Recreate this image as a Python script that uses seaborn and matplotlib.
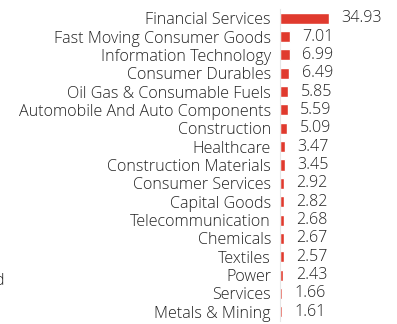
import matplotlib
matplotlib.use("Agg")
import matplotlib.pyplot as plt
import seaborn as sns
import pandas as pd

sectors = [
    "Financial Services", "Fast Moving Consumer Goods", "Information Technology",
    "Consumer Durables", "Oil Gas & Consumable Fuels", "Automobile And Auto Components",
    "Construction", "Healthcare", "Construction Materials", "Consumer Services",
    "Capital Goods", "Telecommunication", "Chemicals", "Textiles", "Power",
    "Services", "Metals & Mining",
]
weights = [34.93, 7.01, 6.99, 6.49, 5.85, 5.59, 5.09, 3.47, 3.45, 2.92,
           2.82, 2.68, 2.67, 2.57, 2.43, 1.66, 1.61]

df = pd.DataFrame({"sector": sectors, "weight": weights})

sns.set_style("white")
plt.rcParams["font.family"] = ["Open Sans", "DejaVu Sans"]
plt.rcParams["font.weight"] = "light"

fig = plt.figure(figsize=(3.97, 3.24), dpi=100)
ax = fig.add_axes([280 / 397, 3 / 324, 117 / 397, 312 / 324])

sns.barplot(data=df, x="weight", y="sector", color="#e03a2e", width=0.6,
            saturation=1, ax=ax)

ax.set_xlim(0, 84)
ax.set_xlabel("")
ax.set_ylabel("")
ax.set_xticks([])
for s in ["top", "right", "bottom"]:
    ax.spines[s].set_visible(False)
ax.spines["left"].set_color("#e6e6e6")
ax.spines["left"].set_linewidth(0.8)
ax.tick_params(axis="y", length=2, width=0.6, color="#e6e6e6", pad=4.5,
               labelsize=11.6, labelcolor="#222222")
for lab in ax.get_yticklabels():
    lab.set_fontstretch("expanded")

for i, v in enumerate(weights):
    ax.annotate(f"{v:.2f}", xy=(v, i), xytext=(9, 0), textcoords="offset points",
                ha="left", va="center", fontsize=11.6, color="#222222")

fig.text(4 / 397, 1 - 281 / 324, "d", ha="right", va="center",
         fontsize=11.6, color="#222222")

fig.savefig("out.png", dpi=100)
